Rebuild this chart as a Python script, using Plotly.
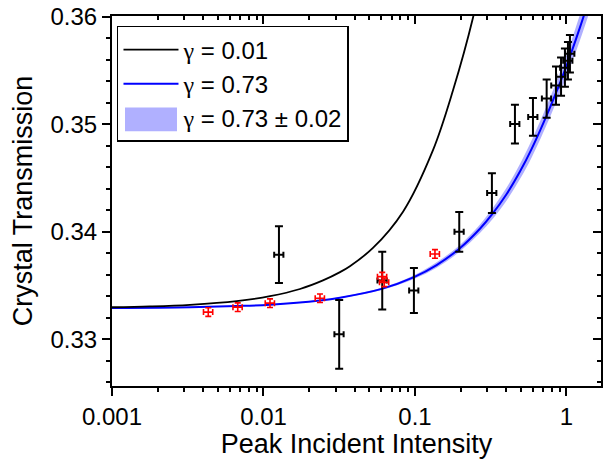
import plotly.graph_objects as go

# ---- data ----
# black measurements (intensity, transmission, y-error)
blk_x = [0.01265, 0.0316, 0.0608, 0.0984, 0.196, 0.322, 0.457, 0.601, 0.740, 0.853, 0.921, 0.977, 1.023, 1.054]
blk_y = [0.33787, 0.33046, 0.33546, 0.33454, 0.3400, 0.34361, 0.35003, 0.3507, 0.35241, 0.35361, 0.35444, 0.35528, 0.35593, 0.35657]
blk_err = [0.00264, 0.0032, 0.00269, 0.0021, 0.00185, 0.00185, 0.0018, 0.00176, 0.00178, 0.00178, 0.00178, 0.00178, 0.00175, 0.00175]

# red measurements
red_x = [0.00432, 0.00676, 0.01104, 0.0236, 0.0608, 0.0627, 0.1355]
red_y = [0.33253, 0.33299, 0.33336, 0.33382, 0.33583, 0.3353, 0.33794]
red_err = [0.0004, 0.0004, 0.0004, 0.0004, 0.0004, 0.0004, 0.0004]

# model curve gamma = 0.01
g1_x = [0.001, 0.00178, 0.00327, 0.00665, 0.01104, 0.01742, 0.0247, 0.0320, 0.0372, 0.0528, 0.0834, 0.1315, 0.1783, 0.2415, 0.281]
g1_y = [0.33298, 0.33306, 0.33321, 0.33355, 0.33401, 0.33468, 0.33548, 0.33625, 0.33680, 0.33850, 0.34188, 0.34761, 0.35318, 0.35993, 0.36435]

# model curve gamma = 0.73
g2_x = [0.001, 0.003272, 0.006653, 0.01104, 0.0236, 0.03199, 0.06026, 0.09849, 0.1390, 0.1961, 0.2685, 0.3225, 0.4030, 0.4933, 0.5891, 0.7782, 0.9924, 1.2279, 1.4294]
g2_y = [0.33291, 0.33298, 0.33309, 0.33322, 0.33361, 0.33387, 0.33469, 0.33579, 0.33691, 0.33843, 0.34029, 0.34162, 0.34352, 0.34561, 0.34772, 0.35156, 0.35531, 0.35903, 0.36190]
# half width of the +/- 0.02 band
band_hw = [0.00002, 0.00002, 0.00003, 0.00004, 0.00005, 0.00006, 0.0001, 0.00017, 0.00025, 0.0003, 0.0004, 0.0005, 0.0006, 0.0007, 0.0008, 0.0009, 0.001, 0.0012, 0.0013]

GAM = "<span style='font-family:Liberation Serif, Times New Roman, serif'>\u03b3</span>"
leg_labels = [GAM + " = 0.01", GAM + " = 0.73", GAM + " = 0.73 \u00b1 0.02"]
x_ticks = [0.001, 0.01, 0.1, 1]
x_ticktext = ["0.001", "0.01", "0.1", "1"]
y_ticks = [0.33, 0.34, 0.35, 0.36]

FONT = "Arial, Liberation Sans, sans-serif"
X_RANGE = [-3, 0.228]
Y_RANGE = [0.32565, 0.36009]
BAND_COLOR = "rgb(176,176,255)"

band_lo = [y - h for y, h in zip(g2_y, band_hw)]
band_hi = [y + h for y, h in zip(g2_y, band_hw)]

fig = go.Figure()

fig.add_trace(go.Scatter(x=g2_x, y=band_lo, mode="lines", line=dict(width=0, shape="spline"),
                         showlegend=False, hoverinfo="skip"))
fig.add_trace(go.Scatter(x=g2_x, y=band_hi, mode="lines", line=dict(width=0, shape="spline"),
                         fill="tonexty", fillcolor=BAND_COLOR, showlegend=False))
fig.add_trace(go.Scatter(x=g2_x, y=g2_y, mode="lines", line=dict(color="#0000ff", width=2, shape="spline"),
                         name=leg_labels[1], legendrank=2))
fig.add_trace(go.Scatter(x=g1_x, y=g1_y, mode="lines", line=dict(color="black", width=1.8, shape="spline"),
                         name=leg_labels[0], legendrank=1))
# legend entry for the band (swatch drawn as a shape below)
fig.add_trace(go.Scatter(x=[None], y=[None], mode="lines", line=dict(color="rgba(0,0,0,0)", width=1),
                         name=leg_labels[2], legendrank=3))

fig.add_trace(go.Scatter(
    x=blk_x, y=blk_y, mode="markers", showlegend=False,
    marker=dict(size=1, color="black"),
    error_y=dict(type="data", array=blk_err, color="black", thickness=2, width=4),
    error_x=dict(type="percent", value=7, color="black", thickness=2, width=3),
))
fig.add_trace(go.Scatter(
    x=red_x, y=red_y, mode="markers", showlegend=False,
    marker=dict(size=11, color="rgba(0,0,0,0)", symbol="circle-open", line=dict(color="red", width=1.6)),
    error_y=dict(type="data", array=red_err, color="red", thickness=1.6, width=3),
    error_x=dict(type="percent", value=7, color="red", thickness=1.6, width=3),
))
# empty trace to activate the mirrored axes
fig.add_trace(go.Scatter(x=[], y=[], xaxis="x2", yaxis="y2", showlegend=False))

axis_common = dict(showline=True, linecolor="black", linewidth=2, showgrid=False, zeroline=False,
                   tickcolor="black", tickwidth=2, ticklen=8)
tickfont = dict(family=FONT, size=24, color="black")

# legend background and band swatch (paper coordinates)
fig.add_shape(type="rect", xref="paper", yref="paper", x0=0.0102, x1=0.4847, y0=0.6747, y1=0.9731,
              fillcolor="white", line=dict(width=0), layer="above")
fig.add_shape(type="rect", xref="paper", yref="paper", x0=0.0266, x1=0.1329, y0=0.6882, y1=0.7527,
              fillcolor=BAND_COLOR, line=dict(width=0), layer="above")

fig.update_layout(
    width=604, height=459,
    margin=dict(l=112, r=3, t=14, b=73),
    paper_bgcolor="white", plot_bgcolor="white",
    font=dict(family=FONT, color="black"),
    xaxis=dict(type="log", range=X_RANGE, ticks="outside", tickvals=x_ticks, ticktext=x_ticktext,
               tickfont=tickfont,
               minor=dict(ticks="outside", ticklen=4, tickwidth=1.5, tickcolor="black", dtick="D1"),
               title=dict(text="Peak Incident Intensity", font=dict(family=FONT, size=27), standoff=2),
               **axis_common),
    yaxis=dict(range=Y_RANGE, ticks="outside", tickvals=y_ticks, tickformat=".2f",
               tickfont=tickfont,
               minor=dict(ticks="outside", ticklen=4, tickwidth=1.5, tickcolor="black", dtick=0.002),
               title=dict(text="Crystal Transmission", font=dict(family=FONT, size=27), standoff=10),
               **axis_common),
    xaxis2=dict(type="log", range=X_RANGE, overlaying="x", side="top", ticks="inside",
                tickvals=x_ticks, showticklabels=False,
                minor=dict(ticks="inside", ticklen=4, tickwidth=1.5, tickcolor="black", dtick="D1"),
                **axis_common),
    yaxis2=dict(range=Y_RANGE, overlaying="y", side="right", ticks="inside",
                tickvals=y_ticks, showticklabels=False,
                minor=dict(ticks="inside", ticklen=4, tickwidth=1.5, tickcolor="black", dtick=0.002),
                **axis_common),
    legend=dict(x=0.0102, y=0.973, xanchor="left", yanchor="top", traceorder="normal",
                bgcolor="rgba(0,0,0,0)", bordercolor="black", borderwidth=1.5,
                font=dict(family=FONT, size=24, color="black"),
                itemwidth=55, tracegroupgap=0),
    showlegend=True,
)

fig.write_html("out.html")
